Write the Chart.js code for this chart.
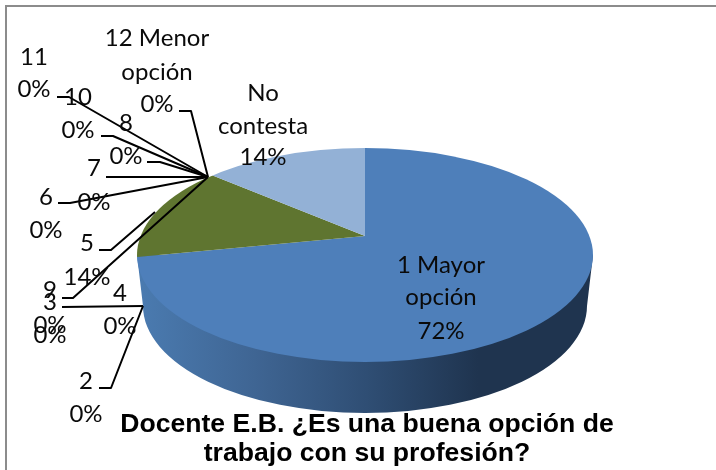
<!DOCTYPE html>
<html>
<head>
<meta charset="utf-8">
<style>html,body{margin:0;padding:0;background:#fff}canvas{display:block}</style>
<script src="https://cdn.jsdelivr.net/npm/chart.js@4"></script>
</head>
<body>
<canvas id="c" width="716" height="470"></canvas>
<script>
const categories = ['1 Mayor opción','2','3','4','5','6','7','8','9','10','11','12 Menor opción','No contesta'];
const values = [72,0,0,0,14,0,0,0,0,0,0,0,14];
const sliceColors = ['#4e7fba','#4e7fba','#4e7fba','#4e7fba','#5f7530','#5f7530','#5f7530','#5f7530','#5f7530','#5f7530','#5f7530','#95b2d6','#93b1d6'];
const titleLines = ['Docente E.B. ¿Es una buena opción de','trabajo con su profesión?'];

// Label layout: one entry per category, the line centres are explicit because Excel placed them by hand.
const labelLayout = [
  {x:441, ys:[265,297,331], name:['1 Mayor','opción']},
  {x:86,  ys:[381,414]},
  {x:50,  ys:[302,335]},
  {x:120, ys:[293,326]},
  {x:87,  ys:[243,277]},
  {x:46,  ys:[197,230]},
  {x:94,  ys:[168,202]},
  {x:126, ys:[123,156]},
  {x:50,  ys:[290,325]},
  {x:78,  ys:[97,130]},
  {x:34,  ys:[57,89]},
  {x:157, ys:[38,72,104], name:['12 Menor','opción']},
  {x:263, ys:[93,126,157], name:['No','contesta']}
];
const leaderPaths = [
  [[57,97],[69,97],[208,177]],
  [[101,136],[113,136],[208,177]],
  [[147,162],[160,162],[208,177]],
  [[106,177],[208,177]],
  [[58,203],[70,203],[208,177]],
  [[179,111],[191,111],[208,177]],
  [[99,250],[111,250],[155,212]],
  [[62,298],[73,298],[208,177]],
  [[62,307],[143,306]],
  [[99,388],[111,388],[143,306]]
];

const pie3d = {
  id:'pie3d',
  beforeDraw(chart){
    const c = chart.ctx;
    c.save();
    c.fillStyle='#fff'; c.fillRect(0,0,716,470);
    c.fillStyle='#8c8c8c';
    c.fillRect(5,5,711,2);
    c.fillRect(5,5,2,465);
    c.restore();
  },
  beforeDatasetsDraw(chart){
    const c = chart.ctx;
    const g = c.createLinearGradient(143,0,590,0);
    g.addColorStop(0,'#4a7aaf');
    g.addColorStop(0.25,'#3f6593');
    g.addColorStop(0.5,'#2f4e74');
    g.addColorStop(0.75,'#1f344f');
    g.addColorStop(1,'#1f344f');
    c.save();
    c.beginPath();
    c.moveTo(137,255);
    c.lineTo(143,306);
    c.ellipse(365,306,222,107,0,Math.PI,0,true);
    c.lineTo(593,255);
    c.closePath();
    c.fillStyle=g; c.fill();
    c.restore();

    c.save();
    c.beginPath();
    c.ellipse(365,255,228,107,0,0,Math.PI*2);
    c.clip();
    const a = chart.getDatasetMeta(0).data[0];
    const sx = 300/a.outerRadius, sy = 0.48*sx;
    c.translate(365,236);
    c.scale(sx,sy);
    c.translate(-a.x,-a.y);
  },
  afterDatasetsDraw(chart){
    const c = chart.ctx;
    c.restore();
    c.save();
    c.strokeStyle='#000'; c.lineWidth=2; c.lineJoin='round';
    leaderPaths.forEach(p=>{
      c.beginPath();
      p.forEach((q,i)=> i?c.lineTo(q[0],q[1]):c.moveTo(q[0],q[1]));
      c.stroke();
    });
    const total = values.reduce((s,v)=>s+v,0);
    c.fillStyle='#0a0a0a';
    c.font='24px Lato, "Open Sans", sans-serif';
    c.textAlign='center'; c.textBaseline='middle';
    categories.forEach((name,i)=>{
      const l = labelLayout[i];
      const lines = (l.name||[name]).concat([Math.round(values[i]/total*100)+'%']);
      lines.forEach((t,k)=>c.fillText(t,l.x,l.ys[k]));
    });
    c.restore();
  }
};

new Chart(document.getElementById('c'),{
  type:'pie',
  data:{labels:categories,datasets:[{data:values,backgroundColor:sliceColors,borderWidth:0,clip:false}]},
  options:{
    responsive:false,animation:false,
    layout:{padding:{left:18}},
    plugins:{
      legend:{display:false},tooltip:{enabled:false},
      title:{display:true,position:'bottom',text:titleLines,color:'#000',
        font:{family:'"Liberation Sans", Arial, sans-serif',size:26.6,weight:'bold',lineHeight:1.09},
        padding:{top:0,bottom:2}}
    }
  },
  plugins:[pie3d]
});
</script>
</body>
</html>
